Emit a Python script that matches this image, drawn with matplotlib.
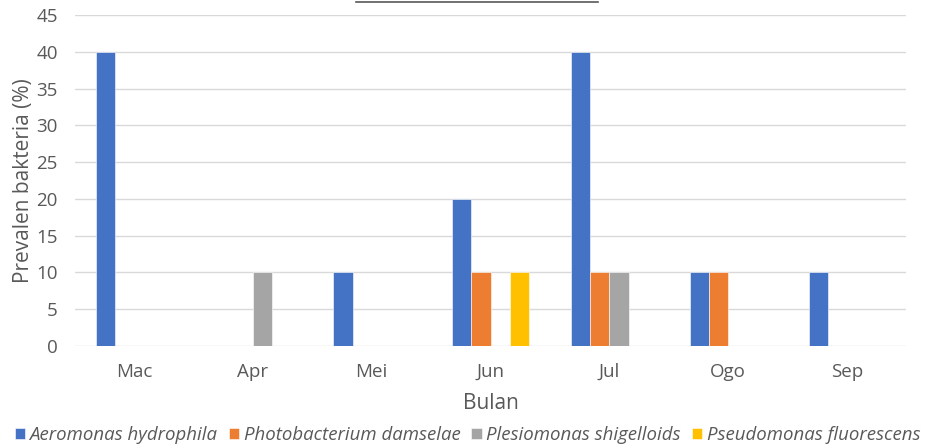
import numpy as np
import matplotlib.pyplot as plt
from matplotlib.lines import Line2D

months = ['Mac', 'Apr', 'Mei', 'Jun', 'Jul', 'Ogo', 'Sep']
species = ['Aeromonas hydrophila', 'Photobacterium damselae',
           'Plesiomonas shigelloids', 'Pseudomonas fluorescens']
aeromonas = [40, 0, 10, 20, 40, 10, 10]
photobacterium = [0, 0, 0, 10, 10, 10, 0]
plesiomonas = [0, 10, 0, 0, 10, 0, 0]
pseudomonas = [0, 0, 0, 10, 0, 0, 0]
colors = ['#4472C4', '#ED7D31', '#A5A5A5', '#FFC000']

plt.rcParams['font.family'] = ['Open Sans', 'DejaVu Sans']
grey = '#595959'

fig = plt.figure(figsize=(9.35, 4.48), dpi=100)
ax = fig.add_axes([0.0798, 0.2277, 0.8897, 0.7388])

x = np.arange(len(months))
w = 1 / (4 + 2.19)
series = [aeromonas, photobacterium, plesiomonas, pseudomonas]
for i, (vals, name, c) in enumerate(zip(series, species, colors)):
    ax.bar(x + (i - 1.5) * w, vals, w, color=c, label=name,
           edgecolor='white', linewidth=0.4, zorder=3)

ax.set_xlim(-0.5, len(months) - 0.5)
ax.set_ylim(0, 45)
ax.set_yticks(range(0, 46, 5))
ax.set_xticks(x)
ax.set_xticklabels(months)
ax.grid(axis='y', color='#D9D9D9', linewidth=1.0, zorder=0)
for s in ax.spines.values():
    s.set_visible(False)
ax.tick_params(length=0, colors=grey, labelsize=13.5)
ax.tick_params(axis='y', pad=12)
ax.tick_params(axis='x', pad=12)
ax.set_ylabel('Prevalen bakteria (%)', fontsize=15, color=grey, labelpad=2)
ax.set_xlabel('Bulan', fontsize=15, color=grey, labelpad=9)

leg = fig.legend(loc='lower center', bbox_to_anchor=(0.5, -0.028), ncol=4,
                 frameon=False, handlelength=0.55, handleheight=0.55,
                 handletextpad=0.25, columnspacing=0.6,
                 prop={'style': 'italic', 'size': 13.4})
for t in leg.get_texts():
    t.set_color(grey)

# underline of the heading above the plot
fig.add_artist(Line2D([356 / 935, 598 / 935], [1 - 2.5 / 448] * 2,
                      color=grey, linewidth=1.2))

fig.savefig('out.png', dpi=100)
